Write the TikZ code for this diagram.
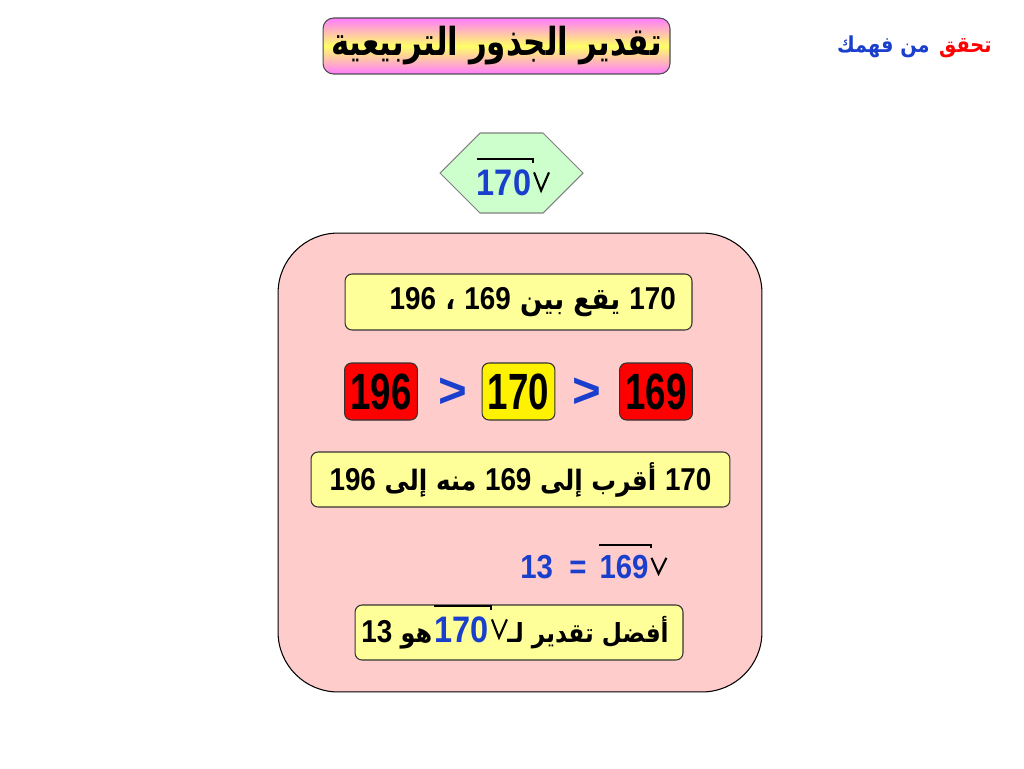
\documentclass[tikz,border=0pt]{standalone}
\usepackage{fontspec}
\setmainfont{Liberation Sans}
\newfontfamily\arabicfont[Script=Arabic,FakeStretch=0.88]{DejaVu Sans}
\newfontfamily\titlefont[Script=Arabic,FakeStretch=0.8]{DejaVu Sans}
\newfontfamily\numfont[FakeStretch=0.88]{Liberation Sans}
\newfontfamily\tallfont[FakeStretch=0.72]{Liberation Sans}
\TeXXeTstate=1
\usetikzlibrary{positioning}
\definecolor{panelpink}{HTML}{FFCCCC}
\definecolor{paleyellow}{HTML}{FFFF99}
\definecolor{hexgreen}{HTML}{CCFFCC}
\definecolor{numblue}{HTML}{1A3FCC}
\definecolor{titlepink}{HTML}{FF7BFF}
\definecolor{titleyellow}{HTML}{FFFF66}
\newcommand\digits[1]{\hbox{\fontsize{18}{18}\numfont\bfseries #1}}
\newcommand\sqrtmark[1]{%
  \draw[radline] ([yshift=5.5pt]#1.north west) -- ([xshift=1pt,yshift=5.5pt]#1.north east) -- ++(0pt,-2pt);
  \draw[radline] ([xshift=1.5pt,yshift=-2pt]#1.north east) -- ([xshift=5.5pt,yshift=2.5pt]#1.base east) -- ([xshift=10pt,yshift=-2pt]#1.north east);}

\begin{document}
\begin{tikzpicture}[
    x=0.02cm, y=-0.02cm,
    arab/.style={font={\fontsize{#1}{#1}\arabicfont\bfseries}},
    card/.style={draw=black!80, line width=0.6pt, rounded corners=4pt, fill=paleyellow, minimum height=1.12cm},
    numbox/.style={draw=black!80, line width=0.6pt, rounded corners=4pt, minimum width=1.44cm, minimum height=1.14cm, font=\fontsize{29}{30}\tallfont\bfseries},
    rootnum/.style={text=numblue, inner sep=0pt, font=\fontsize{#1}{#1}\numfont\bfseries},
    radline/.style={line width=1.2pt, black},
    gt/.style={text=numblue, font=\fontsize{28}{30}\selectfont\bfseries}
  ]
  \useasboundingbox (0,0) rectangle (1024,768);
  \node[draw=black!70, line width=0.6pt, rounded corners=6pt, top color=titlepink, bottom color=titlepink, middle color=titleyellow,
    minimum width=6.94cm, minimum height=1.12cm, font=\fontsize{22}{22}\titlefont\bfseries] (title) at (496.5,46) {\beginR تقدير الجذور التربيعية\endR};
  \node[arab=12.5, text=red, anchor=base east, inner sep=0pt] (check) at (992,52) {\beginR تحقق\endR};
  \node[arab=12.5, text=numblue, anchor=base east, inner sep=0pt] (understand) at ([xshift=-5pt]check.base west) {\beginR من فهمك\endR};

  \draw[draw=gray, line width=0.6pt, fill=hexgreen] (440,173) -- (480,133) -- (543,133) -- (583,173) -- (543,213) -- (480,213) -- cycle;
  \node[rootnum=21, anchor=base] (hexnum) at (504,195) {170};
  \sqrtmark{hexnum}

  \node[draw, line width=0.6pt, fill=panelpink, rounded corners=1.2cm, minimum width=9.68cm, minimum height=9.18cm] (panel) at (520,462.5) {};
  \node[card, minimum width=6.94cm] (between) at (518.5,302) {};
  \node[arab=17, anchor=east] (betweentext) at ([xshift=-6pt]between.east) {\beginR\digits{170} يقع بين \digits{169} ، \digits{196}\endR};

  \node[numbox, fill=red] (lo) at (381,391.5) {196};
  \node[gt] (gt1) at (453,393) {>};
  \node[numbox, fill=yellow] (mid) at (518.5,391.5) {170};
  \node[gt] (gt2) at (587,393) {>};
  \node[numbox, fill=red] (hi) at (656,391.5) {169};

  \node[card, minimum width=8.38cm, minimum height=1.1cm, arab=16] (nearer) at (520.5,479.5) {\beginR\digits{170} أقرب إلى \digits{169} منه إلى \digits{196}\endR};

  \node[rootnum=19, anchor=base] (sqnum) at (624,578) {169};
  \sqrtmark{sqnum}
  \node[rootnum=19, anchor=base east] (sqres) at ([xshift=-7pt]sqnum.base west) {13 \ =};

  \node[card, minimum width=6.56cm, minimum height=1.1cm] (best) at (519,632.5) {};
  \node[arab=15, inner sep=0pt, anchor=base east] (bestA) at (669,642) {\beginR أفضل تقدير لـ\endR};
  \node[rootnum=21, anchor=base east] (bestnum) at ([xshift=-10pt]bestA.base west) {170};
  \sqrtmark{bestnum}
  \node[arab=15.5, inner sep=0pt, anchor=base east] (bestB) at ([xshift=-1pt]bestnum.base west) {\beginR هو \digits{13}\endR};
\end{tikzpicture}
\end{document}
